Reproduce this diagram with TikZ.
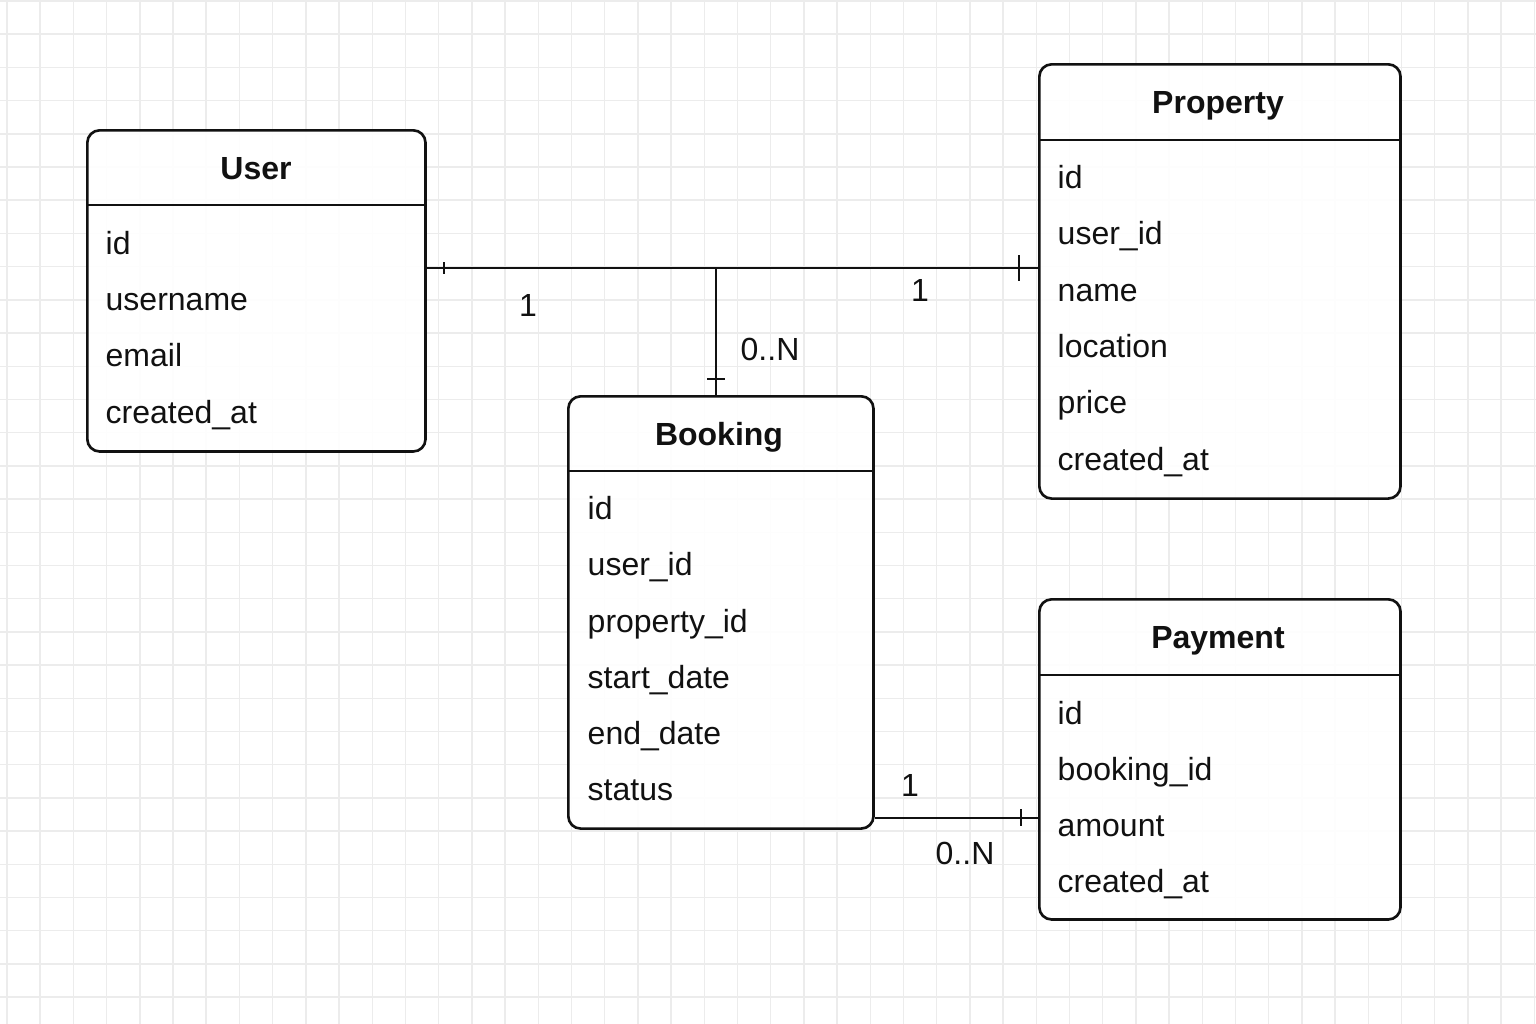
\documentclass[tikz,border=0pt]{standalone}
\usepackage{fontspec}
\setmainfont{Liberation Sans}
\usepackage{xcolor}
\usepackage{tikz}
\usetikzlibrary{calc}
\definecolor{bg}{HTML}{FFFFFF}
\definecolor{gridc}{HTML}{ECECEC}
\definecolor{ink}{HTML}{111111}
\tikzset{
  gridl/.style={draw=gridc, line width=0.4pt},
  ent/.style={draw=ink, fill=bg, fill opacity=0.9, line width=0.75pt, rounded corners=3.5pt, anchor=north west, inner sep=0pt},
  sepl/.style={draw=ink, line width=0.7pt},
  rel/.style={draw=ink, line width=0.6pt},
  ttl/.style={text=ink, font=\fontsize{9.1}{11}\selectfont\bfseries, inner sep=0pt, text height=6.6pt, text depth=0pt},
  fld/.style={text=ink, font=\fontsize{9.1}{11}\selectfont, anchor=west, inner sep=0pt, text height=6.6pt, text depth=0pt},
  card/.style={text=ink, font=\fontsize{9.1}{11}\selectfont, inner sep=0pt, text height=6.6pt, text depth=0pt},
}

\begin{document}
\begin{tikzpicture}[x=0.01cm, y=-0.01cm]
  \fill[bg] (0,0) rectangle (1536,1024);
  \useasboundingbox (0,0) rectangle (1536,1024);
  \foreach \i in {0,...,46} \draw[gridl] (7+33.2*\i,0) -- (7+33.2*\i,1024);
  \foreach \j in {0,...,30} \draw[gridl] (0,1+33.2*\j) -- (1536,1+33.2*\j);

  % entities
  \node[ent, minimum width=3.38cm, minimum height=3.21cm] (user) at (86,129) {};
  \node[ent, minimum width=3.61cm, minimum height=4.34cm] (prop) at (1038,63) {};
  \node[ent, minimum width=3.05cm, minimum height=4.32cm] (book) at (567,395) {};
  \node[ent, minimum width=3.61cm, minimum height=3.20cm] (pay) at (1038,598) {};

  \draw[sepl] ($(user.north west)+(0,76)$) -- ($(user.north east)+(0,76)$);
  \draw[sepl] ($(prop.north west)+(0,77)$) -- ($(prop.north east)+(0,77)$);
  \draw[sepl] ($(book.north west)+(0,76)$) -- ($(book.north east)+(0,76)$);
  \draw[sepl] ($(pay.north west)+(0,77)$) -- ($(pay.north east)+(0,77)$);

  \node[ttl] (userT) at (256,168) {User};
  \node[fld] (userA) at (105,243) {id};
  \node[fld] (userB) at (105,299) {username};
  \node[fld] (userC) at (105,355) {email};
  \node[fld] (userD) at (105,412) {created\_at};

  \node[ttl] (propT) at (1218,102) {Property};
  \node[fld] (propA) at (1057,177) {id};
  \node[fld] (propB) at (1057,233) {user\_id};
  \node[fld] (propC) at (1057,290) {name};
  \node[fld] (propD) at (1057,346) {location};
  \node[fld] (propE) at (1057,402) {price};
  \node[fld] (propF) at (1057,459) {created\_at};

  \node[ttl] (bookT) at (719,434) {Booking};
  \node[fld] (bookA) at (587,508) {id};
  \node[fld] (bookB) at (587,564) {user\_id};
  \node[fld] (bookC) at (587,621) {property\_id};
  \node[fld] (bookD) at (587,677) {start\_date};
  \node[fld] (bookE) at (587,733) {end\_date};
  \node[fld] (bookF) at (587,789) {status};

  \node[ttl] (payT) at (1218,637) {Payment};
  \node[fld] (payA) at (1057,713) {id};
  \node[fld] (payB) at (1057,769) {booking\_id};
  \node[fld] (payC) at (1057,825) {amount};
  \node[fld] (payD) at (1057,881) {created\_at};

  % relations
  \coordinate (jn) at (716,268);
  \coordinate (ue) at (user.east |- jn);
  \coordinate (pw) at (prop.west |- jn);
  \coordinate (bn) at (book.north -| jn);
  \draw[rel] (ue) -- (jn) -- (pw);
  \draw[rel] (jn) -- (bn);
  \draw[rel] ($(ue)+(17,-6)$) -- ++(0,12);
  \draw[rel] ($(pw)+(-19,-13)$) -- ++(0,26);
  \draw[rel] ($(bn)+(-9,-16)$) -- ++(18,0);

  \coordinate (bp) at (872,818);
  \coordinate (be) at (book.east |- bp);
  \coordinate (pe) at (pay.west |- bp);
  \draw[rel] (be) -- (pe);
  \draw[rel] ($(pe)+(-17,-9)$) -- ++(0,17);

  \node[card] (cUP) at (528,305) {1};
  \node[card] (cPU) at (920,290) {1};
  \node[card] (cUB) at (770,349) {0..N};
  \node[card] (cBP) at (910,785) {1};
  \node[card] (cPB) at (965,853) {0..N};
\end{tikzpicture}
\end{document}
